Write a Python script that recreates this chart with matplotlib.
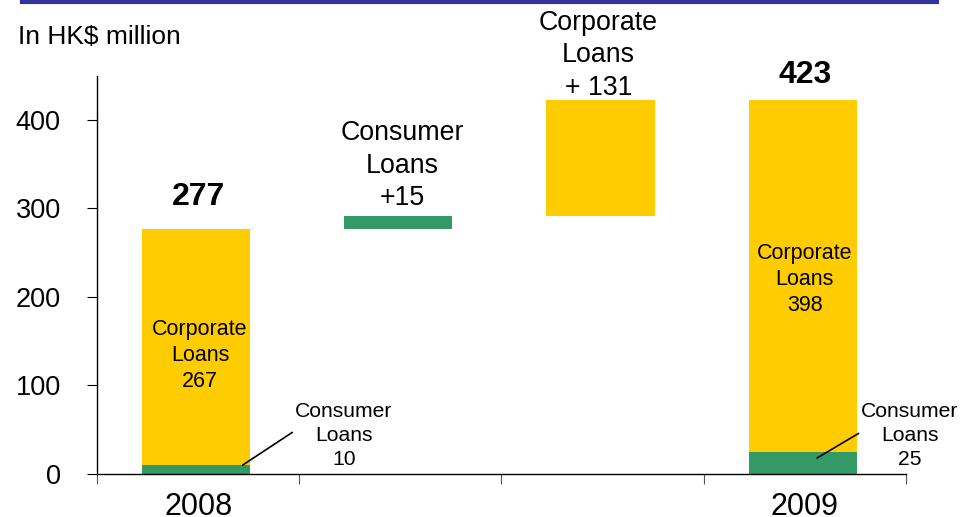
import matplotlib
matplotlib.use("Agg")
import matplotlib.pyplot as plt
from matplotlib.lines import Line2D

plt.rcParams['font.family'] = ['Liberation Sans', 'DejaVu Sans']

# Loan balances (HK$ million)
years = ["2008", "2009"]
consumer = [10, 25]
corporate = [267, 398]
consumer_change = 15
corporate_change = 131
y_ticks = [0, 100, 200, 300, 400]

GREEN = "#339966"
YELLOW = "#FFCC00"

total_2008 = consumer[0] + corporate[0]
total_2009 = consumer[1] + corporate[1]

fig = plt.figure(figsize=(9.62, 5.17), dpi=100)
ax = fig.add_axes([0.1008, 0.0832, 0.8410, 0.7703])

w = 0.535
x = [0, 1, 2, 3]
bx = [v - 0.01 for v in x]

# 2008 stacked column
ax.bar(bx[0], consumer[0], w, color=GREEN, linewidth=0)
ax.bar(bx[0], corporate[0], w, bottom=consumer[0], color=YELLOW, linewidth=0)
# floating increments
ax.bar(bx[1], consumer_change, w, bottom=total_2008, color=GREEN, linewidth=0)
ax.bar(bx[2], corporate_change, w, bottom=total_2008 + consumer_change,
       color=YELLOW, linewidth=0)
# 2009 stacked column
ax.bar(bx[3], consumer[1], w, color=GREEN, linewidth=0)
ax.bar(bx[3], corporate[1], w, bottom=consumer[1], color=YELLOW, linewidth=0)

ax.set_xlim(-0.5, 3.5)
ax.set_ylim(0, 450)

for s in ("top", "right"):
    ax.spines[s].set_visible(False)
for s in ("left", "bottom"):
    ax.spines[s].set_linewidth(1.0)

ax.set_yticks(y_ticks)
ax.set_yticklabels([str(v) for v in y_ticks], fontsize=19.5)
ax.tick_params(axis='y', direction='out', length=7, pad=19)
ax.set_xticks([-0.5, 0.5, 1.5, 2.5, 3.5])
ax.set_xticklabels([])
ax.tick_params(axis='x', direction='out', length=7, color='#555555')
ax.set_xticks([x[0], x[3]], minor=True)
ax.set_xticklabels(years, minor=True, fontsize=22)
ax.tick_params(axis='x', which='minor', length=0, pad=13)

# totals
ax.text(x[0], total_2008 + 19, str(total_2008), ha='center', va='bottom',
        fontsize=23, fontweight='bold')
ax.text(x[3], total_2009 + 11, str(total_2009), ha='center', va='bottom',
        fontsize=23, fontweight='bold')

# labels inside the corporate segments
ax.text(x[0] + 0.01, 134, f"Corporate\nLoans\n{corporate[0]}", ha='center',
        va='center', fontsize=15.5, linespacing=1.33)
ax.text(x[3], 220, f"Corporate\nLoans\n{corporate[1]}", ha='center',
        va='center', fontsize=15.5, linespacing=1.33)

# increment labels
ax.text(x[1] + 0.01, total_2008 + consumer_change + 5,
        f"Consumer\nLoans\n+{consumer_change}", ha='center', va='bottom',
        fontsize=19.3, linespacing=1.32)
ax.text(x[2] - 0.02, total_2009 - 1,
        f"Corporate\nLoans\n+ {corporate_change}", ha='center', va='bottom',
        fontsize=19.3, linespacing=1.32, clip_on=False)

# consumer segment callouts
ax.annotate(f"Consumer\nLoans\n{consumer[0]}", xy=(x[0] + 0.22, consumer[0]),
            xytext=(x[0] + 0.72, 43), ha='center', va='center',
            fontsize=15.2, linespacing=1.33,
            arrowprops=dict(arrowstyle='-', color='black', lw=1.2,
                            shrinkA=0, shrinkB=0, relpos=(0.0, 0.58)))
ax.annotate(f"Consumer\nLoans\n{consumer[1]}", xy=(x[3] + 0.06, 18),
            xytext=(x[3] + 0.52, 43), ha='center', va='center',
            fontsize=15.2, linespacing=1.33, annotation_clip=False,
            arrowprops=dict(arrowstyle='-', color='black', lw=1.2,
                            shrinkA=0, shrinkB=0, relpos=(0.02, 0.58)))

fig.text(0.019, 0.929, "In HK$ million", ha='left', va='center', fontsize=19)

# rule across the top of the slide
fig.add_artist(Line2D([0.023, 0.974], [0.996, 0.996], color='#333399',
                      lw=3, transform=fig.transFigure))

fig.savefig("out.png", dpi=100)
